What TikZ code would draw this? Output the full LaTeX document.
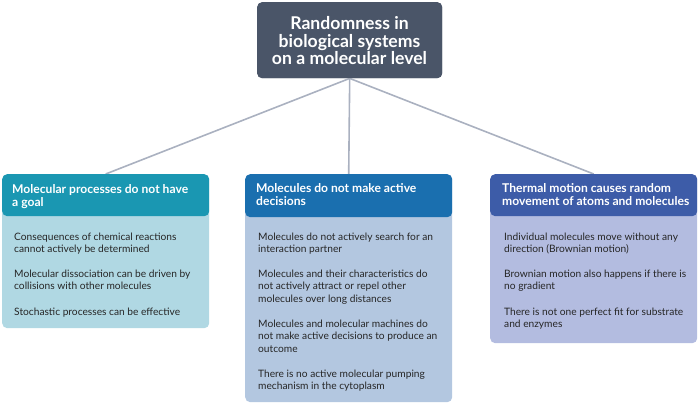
\documentclass[tikz,border=0pt]{standalone}
\usepackage{fontspec}
\setmainfont{Lato}
\definecolor{topc}{HTML}{4A5568}
\definecolor{lhead}{HTML}{1A97B2}
\definecolor{lbody}{HTML}{B0D8E3}
\definecolor{mhead}{HTML}{1A6FAF}
\definecolor{mbody}{HTML}{B3C7E0}
\definecolor{rhead}{HTML}{3D5CA8}
\definecolor{rbody}{HTML}{B3BCE0}
\definecolor{linkc}{HTML}{AAB1C0}
\begin{document}
\begin{tikzpicture}[x=1pt,y=-1pt,
  box/.style={rounded corners=5pt, anchor=north west, inner sep=0pt, draw=none},
  headtxt/.style={anchor=base west, inner sep=0pt, align=left, text=white,
    font=\fontsize{12.1}{13}\selectfont\bfseries},
  bodytxt/.style={anchor=base west, inner sep=0pt, align=left, text=black!85,
    font=\fontsize{10.2}{12.6}\selectfont},
  link/.style={draw=linkc, line width=1.6pt}]
\useasboundingbox (0,0) rectangle (700,406);
% boxes
\node[box, fill=lbody, minimum width=207pt, minimum height=154pt] (L) at (2,174) {};
\node[box, fill=mbody, minimum width=207pt, minimum height=228pt] (M) at (245,174) {};
\node[box, fill=rbody, minimum width=207pt, minimum height=169pt] (R) at (490,174) {};
\node[box, fill=topc, minimum width=185pt, minimum height=76pt] (top) at (257,2) {};
% connectors
\draw[link] (top.south) -- (L.north);
\draw[link] (top.south) -- (M.north);
\draw[link] (top.south) -- (R.north);
% redraw top box over line ends
\node[box, fill=topc, minimum width=185pt, minimum height=76pt] (topcover) at (257,2) {};
\node[text=white, align=center, inner sep=0pt, font=\fontsize{17.6}{17.5}\selectfont\bfseries] (title) at (349.5,41) {Randomness in\\biological systems\\on a molecular level};
% headers
\node[box, fill=lhead, minimum width=207pt, minimum height=42pt] (Lh) at (2,174) {};
\node[box, fill=mhead, minimum width=207pt, minimum height=43pt] (Mh) at (245,174) {};
\node[box, fill=rhead, minimum width=207pt, minimum height=42pt] (Rh) at (490,174) {};
\node[headtxt] (Lht) at (12,206) {Molecular processes do not have\\a goal};
\node[headtxt] (Mht) at (256,205) {Molecules do not make active\\decisions};
\node[headtxt] (Rht) at (502,205) {Thermal motion causes random\\movement of atoms and molecules};
% left body
\node[bodytxt] (L1) at (14,252.6) {Consequences of chemical reactions\\cannot actively be determined};
\node[bodytxt] (L2) at (14,289.6) {Molecular dissociation can be driven by\\collisions with other molecules};
\node[bodytxt] (L3) at (14,315) {Stochastic processes can be effective};
% middle body
\node[bodytxt] (M1) at (258,252.6) {Molecules do not actively search for an\\interaction partner};
\node[bodytxt] (M2) at (258,302.2) {Molecules and their characteristics do\\not actively attract or repel other\\molecules over long distances};
\node[bodytxt] (M3) at (258,352.2) {Molecules and molecular machines do\\not make active decisions to produce an\\outcome};
\node[bodytxt] (M4) at (258,389.6) {There is no active molecular pumping\\mechanism in the cytoplasm};
% right body
\node[bodytxt] (R1) at (504,252.6) {Individual molecules move without any\\direction (Brownian motion)};
\node[bodytxt] (R2) at (504,289.6) {Brownian motion also happens if there is\\no gradient};
\node[bodytxt] (R3) at (504,327.6) {There is not one perfect fit for substrate\\and enzymes};
\end{tikzpicture}
\end{document}
